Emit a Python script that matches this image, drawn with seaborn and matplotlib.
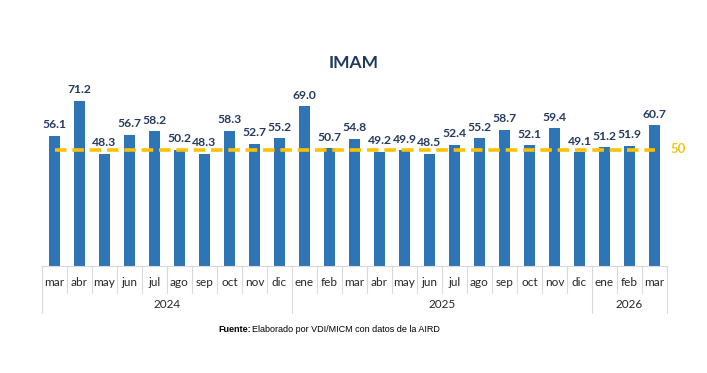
import matplotlib
matplotlib.use("Agg")
import matplotlib.pyplot as plt
import matplotlib.transforms as mtransforms
import seaborn as sns
import pandas as pd

months = ["mar", "abr", "may", "jun", "jul", "ago", "sep", "oct", "nov", "dic",
          "ene", "feb", "mar", "abr", "may", "jun", "jul", "ago", "sep", "oct", "nov", "dic",
          "ene", "feb", "mar"]
years = ["2024", "2025", "2026"]
year_counts = [10, 12, 3]
values = [56.1, 71.2, 48.3, 56.7, 58.2, 50.2, 48.3, 58.3, 52.7, 55.2,
          69.0, 50.7, 54.8, 49.2, 49.9, 48.5, 52.4, 55.2, 58.7, 52.1, 59.4, 49.1,
          51.2, 51.9, 60.7]
threshold = 50
title = "IMAM"

sns.set_theme(style="white")
plt.rcParams["font.family"] = ["Lato", "DejaVu Sans"]

W, H = 707, 373
fig = plt.figure(figsize=(W / 100, H / 100), dpi=100)
fig.patch.set_facecolor("white")

left_px, right_px = 42, 667
base_px = 265.8
ppu = 2.314
ymax = 80
top_px = base_px - ymax * ppu
ax = fig.add_axes([left_px / W, (H - base_px) / H, (right_px - left_px) / W, (base_px - top_px) / H])

df = pd.DataFrame({"pos": list(range(len(values))), "val": values})
sns.barplot(data=df, x="pos", y="val", color="#2E75B6", saturation=1, width=0.45, ax=ax)
for p in ax.patches:
    p.set_edgecolor("none")

ax.set_xlim(-0.5, len(values) - 0.5)
ax.set_ylim(0, ymax)
ax.set_xticks([])
ax.set_yticks([])
ax.set_xlabel("")
ax.set_ylabel("")
for s in ax.spines.values():
    s.set_visible(False)

# data labels
for i, v in enumerate(values):
    ax.annotate(f"{v:.1f}", (i, v), xytext=(0, 4), textcoords="offset points",
                ha="center", va="bottom", fontsize=8.7, fontweight="bold", color="#243A5E")

# threshold line
ax.plot([0, len(values) - 1], [threshold, threshold], color="#FFC000", lw=2.6,
        linestyle=(0, (3.2, 1.6)), zorder=5, solid_capstyle="butt")
ax.text(len(values) - 1 + 0.62, threshold + 0.6, f"{threshold}", color="#F5C518", fontsize=9.5,
        fontweight="bold", va="center", ha="left", fontfamily=["Lato", "DejaVu Sans"])

# category axis drawn below
def fy(px):
    return (H - px) / H

trans = mtransforms.blended_transform_factory(ax.transData, fig.transFigure)
grid_c = "#D9D9D9"
fig.add_artist(plt.Line2D([left_px / W, right_px / W], [fy(base_px), fy(base_px)],
                          color=grid_c, lw=0.8, transform=fig.transFigure))
boundaries_year = [-0.5]
acc = -0.5
for c in year_counts:
    acc += c
    boundaries_year.append(acc)
for b in range(len(values) + 1):
    xb = b - 0.5
    is_year = any(abs(xb - yb) < 1e-9 for yb in boundaries_year)
    bottom = 313 if is_year else 293
    fig.add_artist(plt.Line2D([xb, xb], [fy(base_px), fy(bottom)], color=grid_c, lw=0.8,
                              transform=trans))
for i, m in enumerate(months):
    fig.text(i, fy(282), m, transform=trans, ha="center", va="center", fontsize=8.5, color="#262626")
start = 0
for y, c in zip(years, year_counts):
    center = start + (c - 1) / 2
    fig.text(center, fy(305), y, transform=trans, ha="center", va="center", fontsize=8.5, color="#262626")
    start += c

fig.text(0.5, fy(63), title, ha="center", va="center", fontsize=12.5, fontweight="bold", color="#1F3B5C")

fig.text(218 / W, fy(329), "Fuente:", ha="left", va="center", fontsize=6.5, fontweight="bold",
         color="black", fontfamily=["Liberation Sans", "DejaVu Sans"])
fig.text(252 / W, fy(329), "Elaborado por VDI/MICM con datos de la AIRD", ha="left", va="center",
         fontsize=6.5, color="black", fontfamily=["Liberation Sans", "DejaVu Sans"])

fig.savefig("out.png", dpi=100, facecolor="white")
